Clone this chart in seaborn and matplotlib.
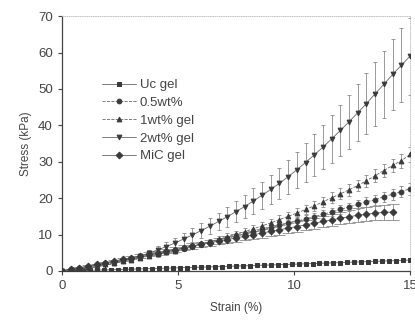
import pandas as pd
import matplotlib
matplotlib.use('Agg')
import matplotlib.pyplot as plt
import seaborn as sns

# Dados (strain em %, stress em kPa)
strain = [0, 0.375, 0.75, 1.125, 1.5, 1.875, 2.25, 2.625, 3, 3.375, 3.75, 4.125, 4.5, 4.875,
          5.25, 5.625, 6, 6.375, 6.75, 7.125, 7.5, 7.875, 8.25, 8.625, 9, 9.375, 9.75, 10.125,
          10.5, 10.875, 11.25, 11.625, 12, 12.375, 12.75, 13.125, 13.5, 13.875, 14.25, 14.625, 15]
strain_uc = [0, 0.3, 0.6, 0.9, 1.2, 1.5, 1.8, 2.1, 2.4, 2.7, 3, 3.3, 3.6, 3.9, 4.2, 4.5, 4.8,
             5.1, 5.4, 5.7, 6, 6.3, 6.6, 6.9, 7.2, 7.5, 7.8, 8.1, 8.4, 8.7, 9, 9.3, 9.6, 9.9,
             10.2, 10.5, 10.8, 11.1, 11.4, 11.7, 12, 12.3, 12.6, 12.9, 13.2, 13.5, 13.8, 14.1,
             14.4, 14.7, 15]

uc_gel = [0, 0.05, 0.1, 0.15, 0.2, 0.25, 0.3, 0.35, 0.4, 0.45, 0.5, 0.56, 0.61, 0.66, 0.72,
          0.77, 0.83, 0.89, 0.94, 1.0, 1.06, 1.11, 1.17, 1.23, 1.29, 1.35, 1.41, 1.47, 1.53,
          1.6, 1.66, 1.72, 1.78, 1.85, 1.91, 1.98, 2.04, 2.11, 2.17, 2.24, 2.31, 2.38, 2.45,
          2.51, 2.58, 2.65, 2.72, 2.79, 2.86, 2.93, 3.0]

wt05 = [0, 0.4, 0.8, 1.2, 1.6, 2.1, 2.5, 3.0, 3.4, 3.9, 4.4, 4.8, 5.3, 5.8, 6.3, 6.9, 7.4, 7.9,
        8.5, 9.0, 9.6, 10.1, 10.7, 11.3, 11.9, 12.5, 13.1, 13.7, 14.3, 14.9, 15.6, 16.2, 16.9,
        17.6, 18.3, 19.0, 19.6, 20.4, 21.1, 21.8, 22.6]
wt05_err = [0, 0.1, 0.1, 0.1, 0.1, 0.2, 0.2, 0.2, 0.3, 0.3, 0.3, 0.4, 0.4, 0.4, 0.5, 0.5, 0.5,
            0.6, 0.6, 0.6, 0.7, 0.7, 0.8, 0.8, 0.8, 0.9, 0.9, 1.0, 1.0, 1.0, 1.1, 1.1, 1.2, 1.2,
            1.3, 1.3, 1.4, 1.4, 1.5, 1.5, 1.6]

wt1 = [0, 0.3, 0.6, 1.0, 1.4, 1.8, 2.2, 2.7, 3.1, 3.6, 4.1, 4.6, 5.1, 5.6, 6.2, 6.8, 7.4, 8.0,
       8.7, 9.4, 10.1, 10.8, 11.6, 12.4, 13.2, 14.1, 15.0, 15.9, 16.9, 17.9, 19.0, 20.1, 21.2,
       22.3, 23.5, 24.8, 26.2, 27.6, 29.0, 30.3, 32.0]
wt1_err = [0, 0.1, 0.1, 0.2, 0.2, 0.2, 0.3, 0.3, 0.4, 0.4, 0.4, 0.5, 0.5, 0.6, 0.6, 0.7, 0.7,
           0.8, 0.8, 0.9, 0.9, 1.0, 1.0, 1.1, 1.1, 1.2, 1.2, 1.3, 1.3, 1.4, 1.4, 1.5, 1.5, 1.6,
           1.6, 1.7, 1.7, 1.8, 1.8, 1.9, 2.0]

wt2 = [0, 0.15, 0.4, 0.7, 1.1, 1.6, 2.1, 2.7, 3.4, 4.1, 4.9, 5.8, 6.7, 7.7, 8.8, 9.9, 11.1,
       12.3, 13.6, 14.9, 16.3, 17.7, 19.2, 20.8, 22.4, 24.1, 25.9, 27.8, 29.8, 31.9, 34.0,
       36.3, 38.6, 41.0, 43.5, 46.0, 48.7, 51.3, 54.0, 56.5, 59.0]
wt2_err = [0, 0.1, 0.1, 0.2, 0.2, 0.3, 0.4, 0.5, 0.6, 0.7, 0.9, 1.0, 1.2, 1.4, 1.6, 1.8, 2.0,
           2.2, 2.4, 2.7, 2.9, 3.2, 3.5, 3.7, 4.0, 4.3, 4.7, 5.0, 5.4, 5.7, 6.1, 6.5, 6.9, 7.4,
           7.8, 8.3, 8.8, 9.2, 9.7, 10.2, 10.6]

mic = [0, 0.5, 0.9, 1.4, 1.8, 2.3, 2.8, 3.2, 3.7, 4.1, 4.6, 5.0, 5.5, 5.9, 6.4, 6.8, 7.3, 7.7,
       8.2, 8.6, 9.1, 9.5, 10.0, 10.4, 10.9, 11.3, 11.8, 12.2, 12.7, 13.1, 13.6, 14.0, 14.5,
       14.9, 15.3, 15.6, 15.9, 16.1, 16.2]
mic_err = [0, 0.1, 0.1, 0.2, 0.2, 0.3, 0.3, 0.4, 0.4, 0.5, 0.5, 0.6, 0.6, 0.7, 0.7, 0.8, 0.8,
           0.9, 0.9, 1.0, 1.0, 1.1, 1.1, 1.2, 1.2, 1.3, 1.3, 1.4, 1.4, 1.5, 1.5, 1.6, 1.7, 1.8,
           1.9, 2.0, 2.0, 2.1, 2.1]

sns.set_style('ticks')
plt.rcParams['font.family'] = ['Liberation Sans', 'DejaVu Sans']

fig = plt.figure(figsize=(4.15, 3.23), dpi=100)
ax = fig.add_axes([0.149, 0.161, 0.839, 0.789])

series = [
    ('Uc gel', strain_uc, uc_gel, None, 's', '-'),
    ('0.5wt%', strain, wt05, wt05_err, 'o', '--'),
    ('1wt% gel', strain, wt1, wt1_err, '^', '--'),
    ('2wt% gel', strain, wt2, wt2_err, 'v', '-'),
    ('MiC gel', strain[:len(mic)], mic, mic_err, 'D', '-'),
]

for nome, xs, ys, err, mk, ls in series:
    if err is not None:
        caps = 4 if nome == 'MiC gel' else 1.5
        ax.errorbar(xs, ys, yerr=err, fmt='none', ecolor='#8a8a8a', elinewidth=0.6,
                    capsize=caps, capthick=0.6, linestyle=':', zorder=1)
    df = pd.DataFrame({'x': xs, 'y': ys})
    sns.lineplot(data=df, x='x', y='y', ax=ax, marker=mk, markersize=3.4, color='#666666',
                 markerfacecolor='#3a3a3a', markeredgecolor='#3a3a3a', linewidth=0.6,
                 linestyle=ls, label=nome, zorder=3)

ax.set_xlim(0, 15)
ax.set_ylim(0, 70)
ax.set_xticks([0, 5, 10, 15])
ax.set_yticks([0, 10, 20, 30, 40, 50, 60, 70])
ax.tick_params(direction='out', length=3, width=0.8, labelsize=9.5, colors='#444444')
ax.set_xlabel('Strain (%)', fontsize=8.5, color='#444444', labelpad=7)
ax.set_ylabel('Stress (kPa)', fontsize=8.5, color='#444444', labelpad=4)

for s in ['left', 'bottom']:
    ax.spines[s].set_color('#444444')
    ax.spines[s].set_linewidth(0.9)
for s in ['top', 'right']:
    ax.spines[s].set_visible(True)
    ax.spines[s].set_color('#bbbbbb')
    ax.spines[s].set_linewidth(0.6)
    ax.spines[s].set_linestyle(':')

leg = ax.legend(loc='upper left', bbox_to_anchor=(0.08, 0.8), frameon=False, fontsize=9.5,
                handlelength=2.6, labelspacing=0.42, handletextpad=0.3)
for t in leg.get_texts():
    t.set_color('#444444')

fig.savefig('out.png', dpi=100)
